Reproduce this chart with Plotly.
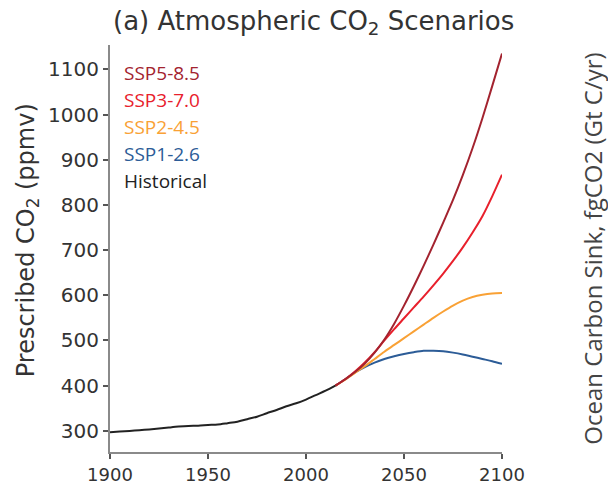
import plotly.graph_objects as go

# ---------------- data ----------------
hist_years = [1900, 1905, 1910, 1915, 1920, 1925, 1930, 1935, 1940, 1945, 1950, 1955,
              1960, 1965, 1970, 1975, 1980, 1985, 1990, 1995, 2000, 2005, 2010, 2015]
hist_co2 = [296.6, 298.2, 299.7, 301.4, 303.0, 305.0, 307.2, 309.2, 310.7, 311.3, 312.8, 314.0,
            316.9, 320.0, 325.7, 331.1, 338.9, 346.0, 354.2, 360.8, 369.1, 379.0, 388.7, 400.0]

scen_years = [2015, 2020, 2025, 2030, 2035, 2040, 2045, 2050, 2055, 2060,
              2065, 2070, 2075, 2080, 2085, 2090, 2095, 2100]
ssp126 = [400, 414, 429, 441, 451, 459, 465, 470, 474, 477, 477, 476, 473, 469, 464, 459, 454, 448]
ssp245 = [400, 413, 428, 443, 459, 475, 490, 505, 520, 535, 550, 564, 577, 588, 596, 601, 604, 605]
ssp370 = [400, 414, 431, 451, 474, 500, 525, 549, 573, 597, 622, 648, 676, 706, 739, 775, 819, 867]
ssp585 = [400, 414, 430, 449, 473, 502, 537, 577, 620, 665, 712, 761, 811, 866, 926, 992, 1063, 1135]

legend_names = ["SSP5-8.5", "SSP3-7.0", "SSP2-4.5", "SSP1-2.6", "Historical"]
legend_colors = ["#a3232f", "#e8202c", "#f9a135", "#2c5c97", "#222222"]

x_ticks = [1900, 1950, 2000, 2050, 2100]
y_ticks = [300, 400, 500, 600, 700, 800, 900, 1000, 1100]

# ---------------- figure ----------------
fig = go.Figure()
series = [(ssp126, "SSP1-2.6", "#2c5c97"),
          (ssp245, "SSP2-4.5", "#f9a135"),
          (ssp370, "SSP3-7.0", "#e8202c"),
          (ssp585, "SSP5-8.5", "#a3232f")]
for vals, name, col in series:
    fig.add_trace(go.Scatter(x=scen_years, y=vals, mode="lines", name=name,
                             line=dict(color=col, width=2, shape="spline", smoothing=0.8)))
fig.add_trace(go.Scatter(x=hist_years, y=hist_co2, mode="lines", name="Historical",
                         line=dict(color="#222222", width=2, shape="spline", smoothing=0.8)))

axis_common = dict(showgrid=False, zeroline=False, showline=True, linecolor="#8a8a8a",
                   linewidth=2, ticks="outside", ticklen=5, tickwidth=1.5, tickcolor="#555",
                   automargin=False)

fig.update_layout(
    width=608, height=484,
    margin=dict(l=110, r=106, t=45, b=32, autoexpand=False),
    paper_bgcolor="white", plot_bgcolor="white",
    showlegend=False,
    xaxis=dict(range=[1900, 2100], tickvals=x_ticks, ticklabelstandoff=0,
               tickfont=dict(family="DejaVu Sans", size=18, color="#333"), **axis_common),
    yaxis=dict(range=[253, 1154], tickvals=y_ticks,
               tickfont=dict(family="DejaVu Sans", size=20, color="#333"), **axis_common),
)

annotations = []
# title
annotations.append(dict(text="(a) Atmospheric CO<sub>2</sub> Scenarios", xref="paper", yref="paper",
                        x=0.52, y=1.0, yshift=4, xanchor="center", yanchor="bottom",
                        showarrow=False, font=dict(family="DejaVu Sans", size=26, color="#333")))
# y label
annotations.append(dict(text="Prescribed CO<sub>2</sub> (ppmv)", xref="paper", yref="paper",
                        x=-0.212, y=0.52, xanchor="center", yanchor="middle", textangle=-90,
                        showarrow=False, font=dict(family="DejaVu Sans", size=24, color="#333")))
# right label
annotations.append(dict(text="Ocean Carbon Sink, fgCO2 (Gt C/yr)", xref="paper", yref="paper",
                        x=1.23, y=0.5, xanchor="center", yanchor="middle", textangle=-90,
                        showarrow=False, font=dict(family="Open Sans", size=24, color="#444")))
# coloured legend text
for i, (nm, col) in enumerate(zip(legend_names, legend_colors)):
    annotations.append(dict(text=nm, xref="paper", yref="paper",
                            x=0.03, y=(452 - 73 - 27 * i) / 407, xanchor="left", yanchor="middle",
                            showarrow=False, font=dict(family="Open Sans", size=19, color=col)))
fig.update_layout(annotations=annotations)

fig.write_html("out.html")
